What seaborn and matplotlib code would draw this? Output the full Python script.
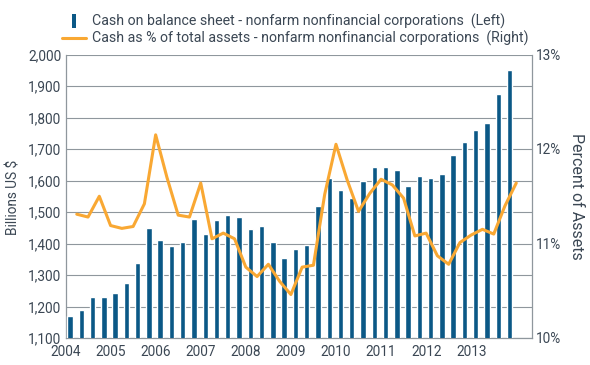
import numpy as np
import pandas as pd
import matplotlib
matplotlib.use("Agg")
import matplotlib.pyplot as plt
from matplotlib.lines import Line2D
from matplotlib.ticker import FuncFormatter
import seaborn as sns

# ---- data (quarterly, 2004 Q1 .. 2013 Q4) ----
years = [2004, 2005, 2006, 2007, 2008, 2009, 2010, 2011, 2012, 2013]
cash_billions = [1170, 1190, 1230, 1230, 1243, 1274, 1338, 1450,
                 1410, 1391, 1406, 1478, 1430, 1474, 1492, 1483,
                 1445, 1455, 1404, 1354, 1383, 1395, 1520, 1609,
                 1570, 1543, 1597, 1643, 1643, 1634, 1584, 1615,
                 1609, 1621, 1681, 1722, 1760, 1782, 1875, 1950]
cash_pct_assets = [11.31, 11.28, 11.50, 11.19, 11.16, 11.18, 11.42, 12.15,
                   11.70, 11.30, 11.28, 11.64, 11.05, 11.11, 11.05, 10.75,
                   10.65, 10.78, 10.60, 10.46, 10.75, 10.77, 11.52, 12.05,
                   11.67, 11.34, 11.53, 11.68, 11.62, 11.48, 11.08, 11.11,
                   10.87, 10.78, 11.01, 11.09, 11.15, 11.10, 11.40, 11.64]
left_ticks = [1100, 1200, 1300, 1400, 1500, 1600, 1700, 1800, 1900, 2000]
right_ticks = [10, 11, 12, 13]
label_bars = "Cash on balance sheet - nonfarm nonfinancial corporations  (Left)"
label_line = "Cash as % of total assets - nonfarm nonfinancial corporations  (Right)"

BAR_C = "#0B5886"
LINE_C = "#F9A833"
TXT_C = "#3B4754"
GRID_C = "#8F979D"

sns.set_style("white")
plt.rcParams["font.family"] = ["Roboto", "DejaVu Sans"]

W, H = 590, 365
fig = plt.figure(figsize=(W / 100, H / 100), dpi=100)
L, R, T, B = 65.5, 531.5, 54.5, 338
ax = fig.add_axes([L / W, 1 - B / H, (R - L) / W, (B - T) / H])

q = np.arange(len(cash_billions))
df = pd.DataFrame({"pos": q + 0.4, "cash": cash_billions})
sns.barplot(data=df, x="pos", y="cash", native_scale=True, width=0.48,
            color=BAR_C, saturation=1, ax=ax, zorder=3)
ax.set_ylim(1100, 2000)
ax.set_yticks(left_ticks)
ax.yaxis.set_major_formatter(FuncFormatter(lambda v, p: f"{int(v):,}"))
ax.set_xticks([4 * k for k in range(len(years))])
ax.set_xticklabels([str(y) for y in years])
ax.set_xlabel("")
ax.set_ylabel("")
ax.grid(axis="y", color=GRID_C, lw=0.8, zorder=0)
ax.set_axisbelow(True)
ax.tick_params(axis="both", length=0, labelsize=9.8, colors=TXT_C)
ax.tick_params(axis="y", pad=3)
ax.tick_params(axis="x", pad=5)
for s in ["left", "bottom", "right"]:
    ax.spines[s].set_color(GRID_C)
    ax.spines[s].set_linewidth(0.9)
ax.spines["top"].set_visible(False)

ax2 = ax.twinx()
dfl = pd.DataFrame({"pos": q + 1.0, "pct": cash_pct_assets})
sns.lineplot(data=dfl, x="pos", y="pct", ax=ax2, color=LINE_C, lw=2.2, zorder=4)
ax2.set_ylim(10, 13)
ax2.set_yticks(right_ticks)
ax2.set_yticklabels([f"{v}%" for v in right_ticks])
ax2.set_ylabel("")
ax2.grid(False)
ax2.tick_params(axis="y", length=0, labelsize=9.8, colors=TXT_C, pad=3)
for s in ["left", "bottom", "right", "top"]:
    ax2.spines[s].set_visible(False)
ax.set_xlim(0, 41.35)

fig.text(14 / W, 1 - 197 / H, "Billions US $", rotation=90, ha="center",
         va="center", fontsize=9.8, color=TXT_C)
fig.text(576 / W, 1 - 196 / H, "Percent of Assets", rotation=270, ha="center",
         va="center", fontsize=11.5, color=TXT_C)

bar_marker = [(-0.3, -1), (0.3, -1), (0.3, 1), (-0.3, 1)]
handles = [
    Line2D([], [], ls="none", marker=bar_marker, markersize=10,
           color=BAR_C, markeredgewidth=0),
    Line2D([], [], color=LINE_C, lw=2.2),
]
fig.legend(handles, [label_bars, label_line], loc="upper left",
           bbox_to_anchor=(62 / W, 1 - 14 / H), frameon=False,
           fontsize=10.2, borderpad=0, borderaxespad=0, handlelength=1.7,
           handletextpad=0.42, labelspacing=0.12, labelcolor=TXT_C)

fig.savefig("out.png", dpi=100)
